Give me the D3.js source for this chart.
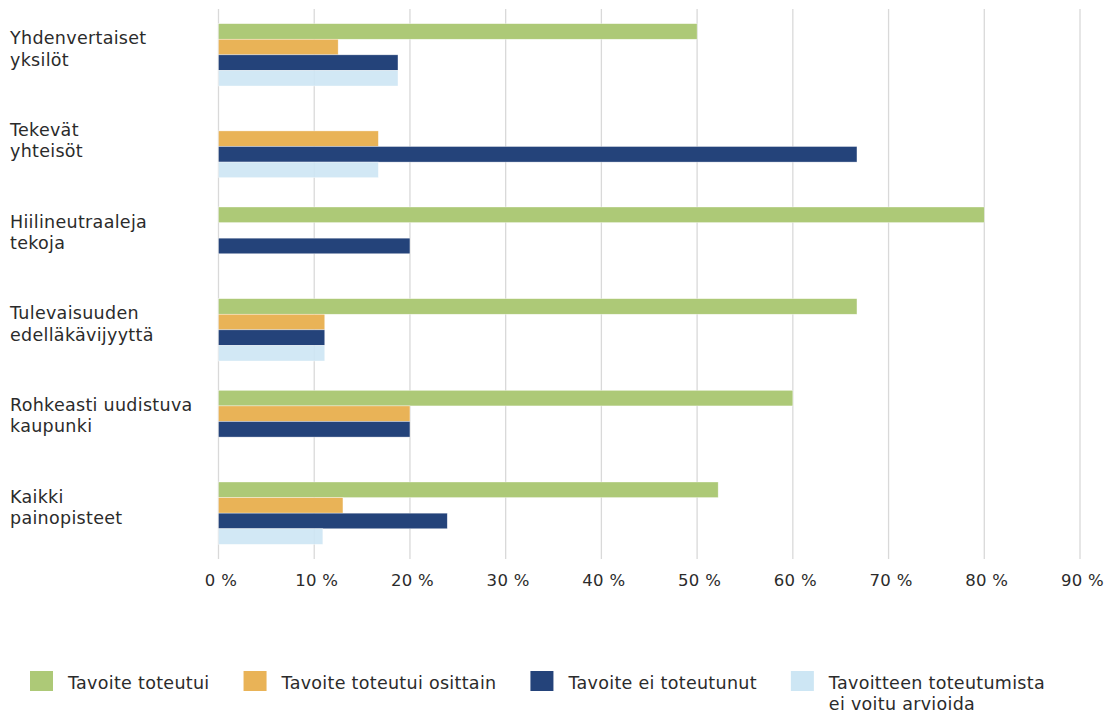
<!DOCTYPE html>
<html>
<head>
<meta charset="utf-8">
<script src="https://cdn.jsdelivr.net/npm/d3@7"></script>
<style>
    body { margin: 0; background: #fff; }
    svg text { font-family: "DejaVu Sans", "Open Sans", sans-serif; fill: #2b2b2b; letter-spacing: 0.3px; }
</style>
</head>
<body>
<div id="chart"></div>
<script>
// categories, each split in two lines like the original
var categories = [
    ["Yhdenvertaiset", "yksilöt"],
    ["Tekevät", "yhteisöt"],
    ["Hiilineutraaleja", "tekoja"],
    ["Tulevaisuuden", "edelläkävijyyttä"],
    ["Rohkeasti uudistuva", "kaupunki"],
    ["Kaikki", "painopisteet"]
];
var seriesNames = [
    ["Tavoite toteutui"],
    ["Tavoite toteutui osittain"],
    ["Tavoite ei toteutunut"],
    ["Tavoitteen toteutumista", "ei voitu arvioida"]
];
var seriesColors = ["#adc977", "#e9b357", "#24437a", "#cde6f4"];
// percent values per series, in category order
var toteutui = [50, 0, 80, 66.7, 60, 52.2];
var osittain = [12.5, 16.7, 0, 11.1, 20, 13.0];
var eiToteutunut = [18.75, 66.7, 20, 11.1, 20, 23.9];
var eiArvioitu = [18.75, 16.7, 0, 11.1, 0, 10.9];
var tickValues = [0, 10, 20, 30, 40, 50, 60, 70, 80, 90];

(function () {
    "use strict";

    var width = 1107,
        height = 713,
        plotLeft = 218.5,
        plotRight = 1080,
        plotTop = 9,
        plotBottom = 559,
        values = [toteutui, osittain, eiToteutunut, eiArvioitu],
        x, y, ySeries, svg, groups, axis;

    svg = d3.select("#chart")
        .append("svg")
        .attr("width", width)
        .attr("height", height);

    x = d3.scaleLinear()
        .domain([0, 90])
        .range([plotLeft, plotRight]);

    y = d3.scaleBand()
        .domain(d3.range(categories.length))
        .range([plotTop, plotBottom])
        .paddingInner(0.32)
        .paddingOuter(0.16);

    ySeries = d3.scaleBand()
        .domain(d3.range(values.length))
        .range([0, y.bandwidth()]);

    // vertical gridlines
    svg.append("g")
        .selectAll("line")
        .data(tickValues)
        .enter()
        .append("line")
        .attr("x1", function (d) { return x(d); })
        .attr("x2", function (d) { return x(d); })
        .attr("y1", plotTop)
        .attr("y2", plotBottom)
        .style("stroke", "#d9d9d9")
        .style("stroke-width", 1.3);

    groups = svg.append("g")
        .selectAll("g")
        .data(categories)
        .enter()
        .append("g")
        .attr("transform", function (d, i) { return "translate(0," + y(i) + ")"; });

    groups.selectAll("rect")
        .data(function (d, i) {
            return values.map(function (s, j) { return { series: j, value: s[i] }; });
        })
        .enter()
        .append("rect")
        .filter(function (d) { return d.value > 0; })
        .attr("x", x(0))
        .attr("y", function (d) { return ySeries(d.series); })
        .attr("width", function (d) { return x(d.value) - x(0); })
        .attr("height", ySeries.bandwidth())
        .style("fill", function (d) { return seriesColors[d.series]; })
        .style("fill-opacity", function (d) { return d.series === 3 ? 0.9 : 1; })
        .style("stroke", "#fff")
        .style("stroke-opacity", 0.6)
        .style("stroke-width", 0.6);

    // category labels, two lines centred on the group
    groups.append("text")
        .attr("x", 10)
        .attr("y", y.bandwidth() / 2)
        .style("font-size", "17.5px")
        .selectAll("tspan")
        .data(function (d) { return d; })
        .enter()
        .append("tspan")
        .attr("x", 10)
        .attr("dy", function (d, i) { return i === 0 ? -10.5 : 21.4; })
        .text(function (d) { return d; });

    axis = d3.axisBottom(x)
        .tickValues(tickValues)
        .tickSize(0)
        .tickPadding(15)
        .tickFormat(function (d) { return d + " %"; });

    svg.append("g")
        .attr("transform", "translate(0," + plotBottom + ")")
        .call(axis)
        .call(function (g) { g.select(".domain").remove(); })
        .selectAll("text")
        .style("font-family", null)
        .style("font-size", "16.5px")
        .attr("fill", null)
        .attr("dx", 2);

    // legend laid out from the measured text widths
    var legend = svg.append("g").attr("transform", "translate(30,671)"),
        cursor = 0;

    seriesNames.forEach(function (name, i) {
        var item = legend.append("g").attr("transform", "translate(" + cursor + ",0)"),
            label;

        item.append("rect")
            .attr("width", 23)
            .attr("height", 20)
            .style("fill", seriesColors[i]);

        label = item.append("text")
            .attr("x", 38)
            .attr("y", 18)
            .style("font-size", "17.5px");

        label.selectAll("tspan")
            .data(name)
            .enter()
            .append("tspan")
            .attr("x", 38)
            .attr("dy", function (d, k) { return k === 0 ? 0 : 20.5; })
            .text(function (d) { return d; });

        cursor += 38 + label.node().getBBox().width + 33;
    });
})();
</script>
</body>
</html>
